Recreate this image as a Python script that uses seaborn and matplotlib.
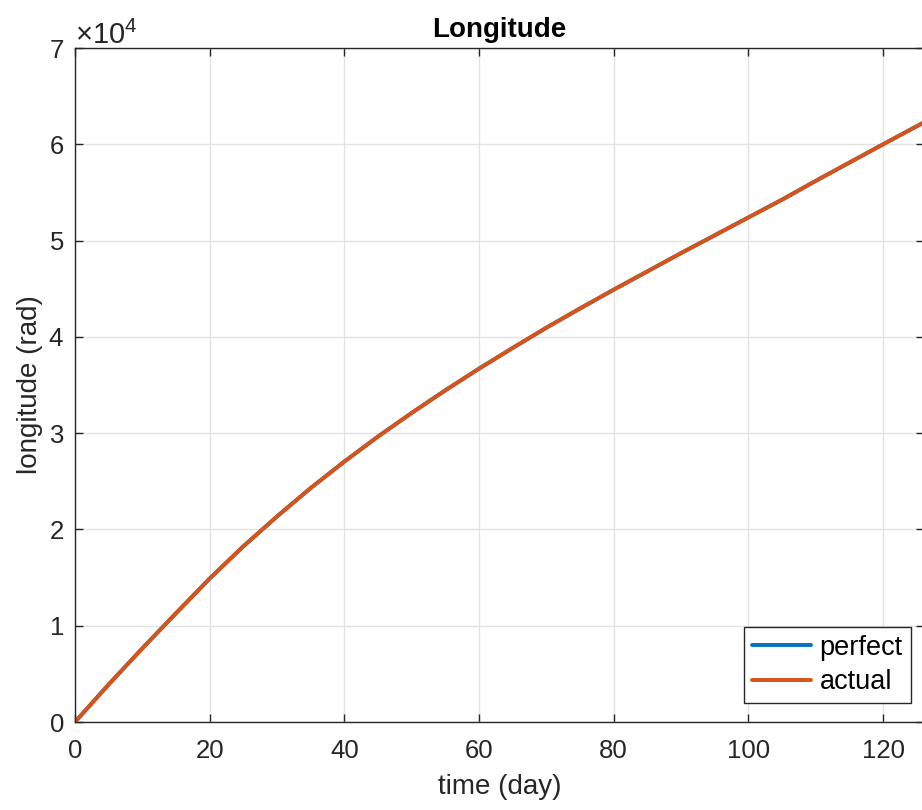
import matplotlib
matplotlib.use("Agg")
import matplotlib.pyplot as plt
import seaborn as sns
import pandas as pd
from matplotlib.ticker import ScalarFormatter
from matplotlib.lines import Line2D

# ---- data ----
time_day = [0, 5, 10, 15, 20, 25, 30, 35, 40, 45, 50, 55, 60, 65, 70, 75,
            80, 85, 90, 95, 100, 105, 110, 115, 120, 126]
perfect = [0, 3900, 7650, 11300, 14900, 18250, 21350, 24300, 27050, 29650,
           32100, 34450, 36700, 38850, 40950, 42950, 44900, 46800, 48700,
           50550, 52400, 54250, 56200, 58100, 60000, 62250]
actual = [0, 3900, 7650, 11300, 14900, 18250, 21350, 24300, 27050, 29650,
          32100, 34450, 36700, 38850, 40950, 42950, 44900, 46800, 48700,
          50550, 52400, 54250, 56200, 58100, 60000, 62250]
series_names = ["perfect", "actual"]
x_ticks = [0, 20, 40, 60, 80, 100, 120]
y_ticks = [0, 10000, 20000, 30000, 40000, 50000, 60000, 70000]

df = pd.concat([
    pd.DataFrame({"time": time_day, "lon": perfect, "series": "perfect"}),
    pd.DataFrame({"time": time_day, "lon": actual, "series": "actual"}),
])

sns.set_theme(style="whitegrid")
plt.rcParams["font.family"] = ["Liberation Sans", "DejaVu Sans"]
plt.rcParams["mathtext.fontset"] = "custom"
plt.rcParams["mathtext.rm"] = "Liberation Sans"
plt.rcParams["mathtext.it"] = "Liberation Sans"

W, H = 922, 810
fig = plt.figure(figsize=(W / 100, H / 100), dpi=100)
ax = fig.add_axes([75 / W, 88 / H, 848.5 / W, 674 / H])

palette = {"perfect": "#0072BD", "actual": "#D95319"}
sns.lineplot(data=df, x="time", y="lon", hue="series", hue_order=series_names,
             palette=palette, linewidth=2.8, ax=ax, legend=False, sort=False,
             estimator=None)

ax.set_xlim(0, 126)
ax.set_ylim(0, 70000)
ax.set_xticks(x_ticks)
ax.set_yticks(y_ticks)

fmt = ScalarFormatter(useMathText=True)
fmt.set_powerlimits((0, 0))
ax.yaxis.set_major_formatter(fmt)
ax.yaxis.get_offset_text().set_fontsize(21)
ax.yaxis.get_offset_text().set_color("#262626")

ax.set_facecolor("white")
ax.grid(True, color="#E3E3E3", linewidth=1.0)
for s in ax.spines.values():
    s.set_visible(True)
    s.set_color("#262626")
    s.set_linewidth(1.0)

ax.tick_params(axis="both", which="major", direction="in", length=6, width=1.0,
               color="#262626", labelcolor="#262626", labelsize=18.5,
               top=True, right=True, bottom=True, left=True)
ax.tick_params(axis="x", pad=12)
ax.tick_params(axis="y", pad=8)

ax.set_xlabel("time (day)", fontsize=20, color="#262626", labelpad=8)
ax.set_ylabel("longitude (rad)", fontsize=20, color="#262626", labelpad=4)
ax.set_title("Longitude", fontsize=20, fontweight="bold", color="black", pad=8)

handles = [Line2D([], [], color=palette[n], linewidth=2.8) for n in series_names]
leg = ax.legend(handles, series_names, loc="lower right",
                bbox_to_anchor=(0.985, 0.028), borderaxespad=0,
                fontsize=19.5, frameon=True, fancybox=False, framealpha=1,
                edgecolor="#262626", handlelength=2.2, handletextpad=0.3,
                borderpad=0.3, labelspacing=0.3)
leg.get_frame().set_linewidth(1.0)
for t in leg.get_texts():
    t.set_color("black")

fig.savefig("out.png", dpi=100, facecolor="white")
